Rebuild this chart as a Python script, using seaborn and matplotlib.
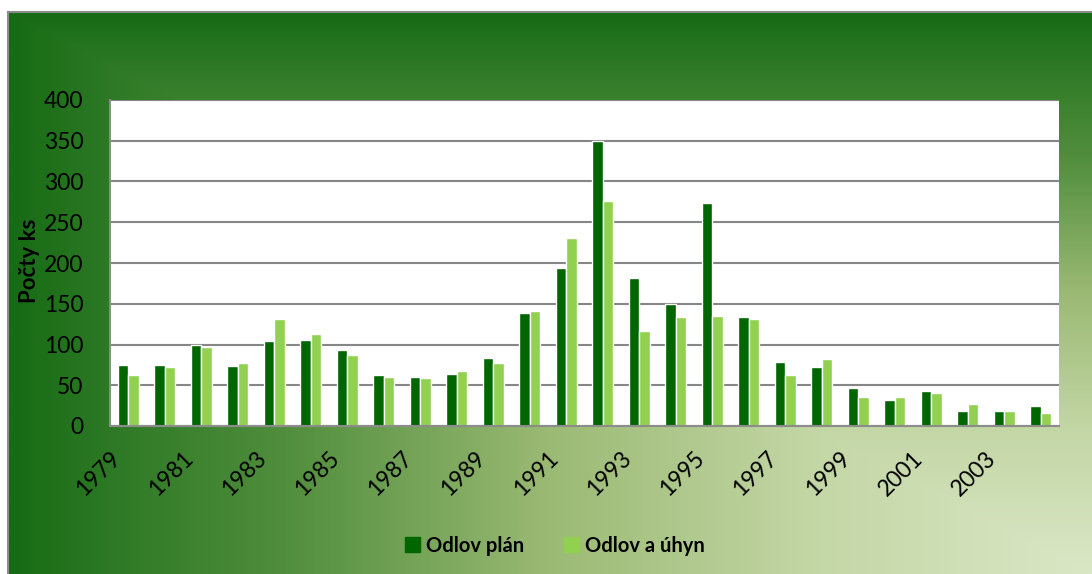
import matplotlib
matplotlib.use("Agg")
import matplotlib.pyplot as plt
import matplotlib.transforms as mtransforms
import numpy as np
import pandas as pd
import seaborn as sns
from matplotlib.colors import LinearSegmentedColormap
from matplotlib.patches import Patch

years = [str(y) for y in range(1979, 2005)]
plan = [75, 75, 100, 74, 104, 106, 93, 62, 60, 64, 84, 139, 194, 350, 181,
        150, 274, 134, 78, 73, 47, 32, 43, 19, 18, 25]
uhyn = [62, 73, 97, 77, 131, 113, 87, 60, 59, 68, 77, 141, 231, 276, 116,
        134, 135, 131, 62, 82, 36, 36, 40, 27, 19, 16]
series = ["Odlov plán", "Odlov a úhyn"]
colors = ["#006600", "#92d050"]

df = pd.DataFrame({"rok": years * 2,
                   "pocet": plan + uhyn,
                   "serie": [series[0]] * len(years) + [series[1]] * len(years)})

sns.set_theme(style="white")
plt.rcParams["font.family"] = ["Lato", "DejaVu Sans"]
plt.rcParams["text.color"] = "black"
plt.rcParams["xtick.color"] = "black"
plt.rcParams["ytick.color"] = "black"
plt.rcParams["axes.labelcolor"] = "black"

W, H = 1092, 574
fig = plt.figure(figsize=(W / 100, H / 100), dpi=100)
fig.patch.set_facecolor("white")

# gradient background of the chart frame (corner path gradient)
bg = fig.add_axes([8 / W, 0, 1 - 8 / W, (H - 12) / H], zorder=-10)
gx, gy = np.meshgrid(np.linspace(0, 1, 400), np.linspace(0, 1, 220))
t = np.maximum(1 - gx, 1 - gy)
cmap = LinearSegmentedColormap.from_list(
    "moss", [(0, "#dae7c6"), (0.25, "#c4d7a6"), (0.5, "#9bba74"),
             (0.75, "#4f8d3c"), (0.9, "#2f7a26"), (1, "#176b14")])
bg.imshow(t, cmap=cmap, aspect="auto", extent=[0, 1, 0, 1], origin="upper")
bg.set_xlim(0, 1)
bg.set_ylim(0, 1)
for s in ["right", "bottom"]:
    bg.spines[s].set_visible(False)
for s in ["top", "left"]:
    bg.spines[s].set_color("#8c8c8c")
    bg.spines[s].set_linewidth(1.5)
bg.set_xticks([])
bg.set_yticks([])

ax = fig.add_axes([110 / W, (H - 426) / H, (1059 - 110) / W, (426 - 100) / H])
sns.barplot(data=df, x="rok", y="pocet", hue="serie", palette=colors,
            width=0.58, gap=0, ax=ax, legend=False, saturation=1)

ax.set_facecolor("white")
ax.set_ylim(0, 400)
ax.set_yticks(range(0, 401, 50))
ax.set_xlim(-0.5, len(years) - 0.5)
ax.set_xticks(range(0, len(years), 2))
ax.tick_params(axis="x", length=0, pad=15.5)
ax.tick_params(axis="y", length=6, width=1.5, color="#8c8c8c", labelsize=16.5, pad=13)
ax.set_xticklabels(years[::2], rotation=45, ha="right", rotation_mode="anchor",
                   fontsize=16.5)
shift = mtransforms.ScaledTranslation(-19 / 100, 0, fig.dpi_scale_trans)
for lbl in ax.get_xticklabels():
    lbl.set_transform(lbl.get_transform() + shift)
ax.grid(axis="y", color="#868686", linewidth=1.5)
ax.set_axisbelow(True)
for s in ["top", "right"]:
    ax.spines[s].set_visible(False)
for s in ["left", "bottom"]:
    ax.spines[s].set_color("#8c8c8c")
    ax.spines[s].set_linewidth(1.5)
ax.set_xlabel("")
ax.set_ylabel("Počty ks", fontsize=16, fontweight="bold")
ax.yaxis.set_label_coords(40 / W, (H - 261) / H, transform=fig.transFigure)

handles = [Patch(color=c, label=l) for c, l in zip(colors, series)]
fig.legend(handles=handles, loc="center", bbox_to_anchor=(0.508, 0.049), ncol=2,
           frameon=False, prop={"weight": "bold", "size": 14.5},
           handlelength=0.75, handleheight=0.75, handletextpad=0.3, columnspacing=2.0)

fig.savefig("out.png", dpi=100)
